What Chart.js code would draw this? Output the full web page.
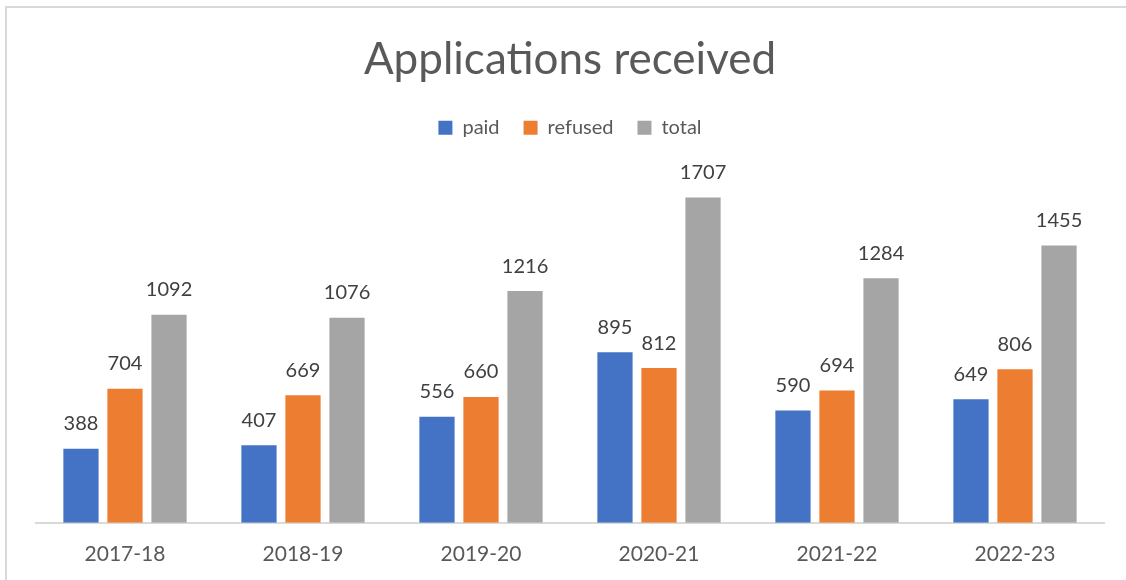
<!DOCTYPE html>
<html>
<head>
<meta charset="utf-8">
<script src="https://cdn.jsdelivr.net/npm/chart.js@4"></script>
<style>
  html, body { margin: 0; padding: 0; background: #fff; overflow: hidden; }
  #frame {
    position: absolute; left: 5px; top: 6px;
    width: 1200px; height: 700px;
    border: 2px solid #d9d9d9; box-sizing: border-box;
  }
  #wrap { position: absolute; left: 2px; top: 2px; width: 1119px; height: 576px; }
</style>
</head>
<body>
<div id="frame"><div id="wrap"><canvas id="appsChart"></canvas></div></div>
<script>
// chart data
const years = ['2017-18', '2018-19', '2019-20', '2020-21', '2021-22', '2022-23'];
const paid = [388, 407, 556, 895, 590, 649];
const refused = [704, 669, 660, 812, 694, 806];
const total = [1092, 1076, 1216, 1707, 1284, 1455];

const textColor = '#595959';
Chart.defaults.font.family = 'Lato, "Open Sans", sans-serif';

// value labels above each bar
const barLabels = {
    id: 'barLabels',
    afterDatasetsDraw(chart) {
        const ctx = chart.ctx;
        ctx.save();
        ctx.font = '20px Lato, "Open Sans", sans-serif';
        ctx.fillStyle = '#404040';
        ctx.textAlign = 'center';
        ctx.textBaseline = 'middle';
        chart.data.datasets.forEach(function(ds, i) {
            chart.getDatasetMeta(i).data.forEach(function(bar, j) {
                ctx.fillText(ds.data[j], bar.x, bar.y - 25);
            });
        });
        ctx.restore();
    }
};

new Chart(document.getElementById('appsChart'), {
    type: 'bar',
    data: {
        labels: years,
        datasets: [
            { label: 'paid', data: paid, backgroundColor: '#4472C4' },
            { label: 'refused', data: refused, backgroundColor: '#ED7D31' },
            { label: 'total', data: total, backgroundColor: '#A5A5A5' }
        ]
    },
    options: {
        responsive: true,
        maintainAspectRatio: false,
        animation: false,
        datasets: {
            bar: { categoryPercentage: 0.742, barPercentage: 0.8 }
        },
        layout: { padding: { left: 27, right: 24, top: 0, bottom: 0 } },
        plugins: {
            title: {
                display: true,
                text: 'Applications received',
                color: textColor,
                font: { size: 44, weight: 'normal' },
                padding: { top: 23, bottom: 8 }
            },
            legend: {
                position: 'top',
                labels: {
                    color: textColor,
                    boxWidth: 14,
                    boxHeight: 14,
                    padding: 24,
                    font: { size: 20 }
                }
            },
            tooltip: { enabled: false }
        },
        scales: {
            x: {
                grid: { display: false, drawTicks: false },
                border: { color: '#d9d9d9', width: 2 },
                ticks: { color: textColor, font: { size: 21 }, padding: 19 }
            },
            y: {
                display: false,
                min: 0,
                max: 1968
            }
        }
    },
    plugins: [barLabels]
});
</script>
</body>
</html>
